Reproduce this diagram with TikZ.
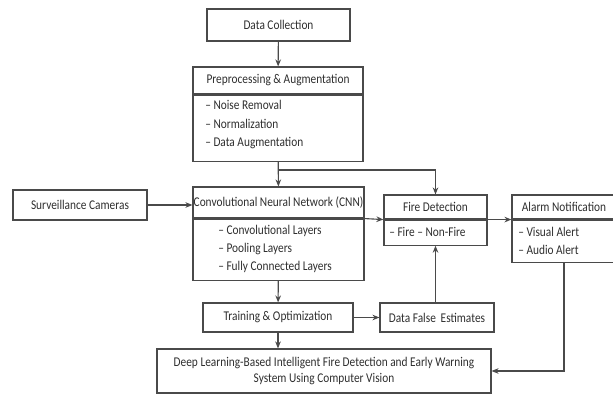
\documentclass[tikz,border=0pt]{standalone}
\usepackage{fontspec}
\setmainfont[FakeStretch=0.85]{Carlito}
\usepackage{xcolor}
\usepackage{tikz}
\usetikzlibrary{arrows.meta}
\definecolor{boxline}{HTML}{4A4A4A}
\definecolor{inktext}{HTML}{2E2E2E}
\tikzset{every node/.append style={font=\fontsize{9.5}{11.3}\selectfont, text=inktext}}
\tikzset{
  box/.style={draw=boxline, line width=0.8pt, inner sep=0pt, align=center},
  item/.style={anchor=west, inner sep=0pt},
  link/.style={draw=boxline, line width=0.8pt, ->},
}

\begin{document}
\begin{tikzpicture}[x=0.025cm, y=-0.025cm, >={Stealth[length=5pt, width=4pt]}]
    \useasboundingbox (0,0) rectangle (613,394);
    % preprocessing column
    \node[box, minimum width=3.575cm, minimum height=0.8cm] (dc) at (278.5,25) {Data Collection};
    \node[box, minimum width=4.25cm, minimum height=0.675cm] (pp) at (278,80.5) {Preprocessing \& Augmentation};
    \node[box, minimum width=4.25cm, minimum height=1.65cm, anchor=north] (ppbody) at (pp.south) {};
    \foreach \t [count=\i] in {Noise Removal, Normalization, Data Augmentation}
        \node[item] (pp\i) at (205,{86+19*\i}) {-- \t};

    % network row
    \node[box, minimum width=3.35cm, minimum height=0.75cm] (surv) at (80,205) {Surveillance Cameras};
    \node[box, minimum width=4.275cm, minimum height=0.775cm] (cnn) at (278.5,202.5) {Convolutional Neural Network (CNN)};
    \node[box, minimum width=4.275cm, minimum height=1.525cm, anchor=north] (cnnbody) at (cnn.south) {};
    \foreach \t [count=\i] in {Convolutional Layers, Pooling Layers, Fully Connected Layers}
        \node[item] (cnn\i) at (218,{213+18*\i}) {-- \t};

    \node[box, minimum width=2.575cm, minimum height=0.6cm] (fd) at (435.5,207) {Fire Detection};
    \node[box, minimum width=2.575cm, minimum height=0.625cm, anchor=north] (fdbody) at (fd.south) {};
    \node[item] (fd1) at (389,232) {-- Fire -- Non-Fire};

    \node[box, minimum width=2.6cm, minimum height=0.6cm] (an) at (564,207) {Alarm Notification};
    \node[box, minimum width=2.6cm, minimum height=1.05cm, anchor=north] (anbody) at (an.south) {};
    \foreach \t [count=\i] in {Visual Alert, Audio Alert}
        \node[item] (an\i) at (518,{214+18*\i}) {-- \t};

    % bottom
    \node[box, minimum width=3.75cm, minimum height=0.725cm] (to) at (278,317.5) {Training \& Optimization};
    \node[box, minimum width=2.85cm, minimum height=0.725cm] (dfe) at (437,317.5) {Data False\, Estimates};
    \node[box, minimum width=8.35cm, minimum height=1.1cm] (final) at (324,371)
        {Deep Learning-Based Intelligent Fire Detection and Early Warning\\System Using Computer Vision};

    % connectors
    \coordinate (split) at (278,170);
    \draw[link] (dc) -- (pp);
    \draw[link] (ppbody) -- (cnn);
    \draw[link] (split) -| (fd);
    \draw[link] (surv.east) -- (surv.east -| cnn.west);
    \draw[link] (cnnbody.north east) -- (fdbody.north west);
    \draw[link] (fdbody.north east) -- (anbody.north west);
    \draw[link] (cnnbody) -- (to);
    \draw[link] (to) -- (dfe);
    \draw[link] (fdbody.south |- dfe.north) -- (fdbody.south);
    \draw[link] (to.south) -- (to.south |- final.north);
    \draw[link] (anbody.south) |- (final.east);
\end{tikzpicture}
\end{document}
